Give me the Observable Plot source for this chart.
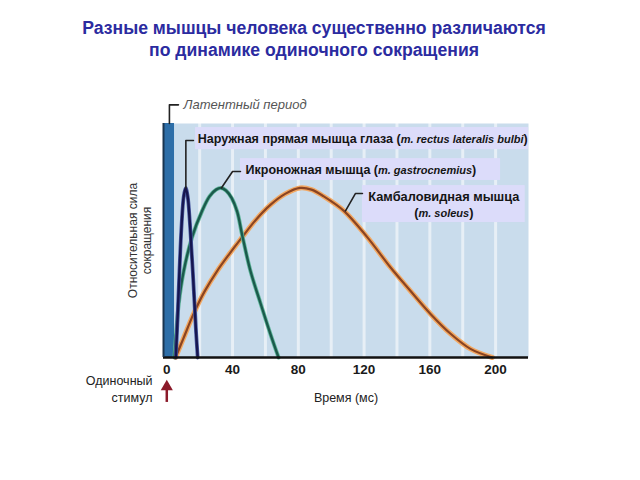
<!DOCTYPE html>
<html>
<head>
<meta charset="utf-8">
<script src="https://cdn.jsdelivr.net/npm/d3@7"></script>
<script src="https://cdn.jsdelivr.net/npm/@observablehq/plot@0.6"></script>
<style>
  html, body { margin: 0; padding: 0; background: white; }
  #wrap { position: relative; width: 640px; height: 480px; font-family: "Liberation Sans", Arial, sans-serif; }
  #title { position: absolute; left: 0; top: 17px; width: 628px; text-align: center; font-weight: bold;
           font-size: 17.6px; line-height: 22px; color: #2b2ba0; }
  #chart { position: absolute; left: 0; top: 0; }
</style>
</head>
<body>
<div id="wrap">
  <div id="chart"></div>
  <div id="title">Разные мышцы человека существенно различаются<br>по динамике одиночного сокращения</div>
</div>
<script>
// ---- Data ----
const eyeTime   = [5.5, 6.5, 7.7, 9, 10.3, 11.5, 12.7, 14, 15, 15.8, 16.8, 17.8, 18.8];
const eyeForce  = [0, 0.22, 0.51, 0.78, 0.95, 1, 0.95, 0.8, 0.64, 0.51, 0.33, 0.15, 0];

const gastroTime  = [4.7, 7.3, 10.3, 15.4, 21.5, 26, 30, 33, 36, 39.5, 42.8, 45.9, 50.9, 57, 63, 68];
const gastroForce = [0, 0.32, 0.51, 0.71, 0.865, 0.95, 0.99, 1, 0.985, 0.94, 0.86, 0.72, 0.51, 0.32, 0.14, 0];

const soleusTime  = [5.3, 10, 16.4, 23, 30.6, 38, 45.9, 54, 63, 72, 81, 88, 95.5, 107.7, 121.9, 136, 148, 160.4, 172.6, 184.7, 198];
const soleusForce = [0, 0.11, 0.26, 0.39, 0.51, 0.61, 0.71, 0.81, 0.9, 0.965, 1, 0.99, 0.95, 0.865, 0.71, 0.532, 0.395, 0.257, 0.14, 0.051, 0];

const xTicks    = [0, 40, 80, 120, 160, 200];
const gridTicks = [20, 40, 60, 80, 100, 120, 140, 160, 180, 200];
const latentPeriod = [-2, 4.7];   // ms, from stimulus to onset

const labelEye    = "Наружная прямая мышца глаза (m. rectus lateralis bulbi)";
const labelGastro = "Икроножная мышца (m. gastrocnemius)";
const labelSoleus = "Камбаловидная мышца\n(m. soleus)";
const labelLatent = "Латентный период";
const labelX      = "Время (мс)";
const labelY      = "Относительная сила\nсокращения";
const labelStim   = "Одиночный\nстимул";

// ---- Build tables ----
const toRows = (ts, vs) => ts.map((t, i) => ({t, v: vs[i]}));
const eye = toRows(eyeTime, eyeForce);
const gastro = toRows(gastroTime, gastroForce);
const soleus = toRows(soleusTime, soleusForce);

// annotation layout (data coordinates)
const boxes = [
  {x1: 17.5, x2: 220, y1: 1.226, y2: 1.356},
  {x1: 44.8, x2: 203, y1: 1.044, y2: 1.173},
  {x1: 119,  x2: 218, y1: 0.796, y2: 1.014}
];
const leaders = [
  [[11.6, 1.0], [11.6, 1.28], [16.2, 1.28]],
  [[33.2, 1.0], [40, 1.097], [44.8, 1.097]],
  [[108.7, 0.865], [114.7, 0.967], [119, 0.967]],
  [[1.6, 1.38], [1.6, 1.49], [7.1, 1.49]]
].flatMap((pts, k) => pts.map(([t, v]) => ({k, t, v})));

const font = "Liberation Sans, Arial, sans-serif";
const curve = "catmull-rom";

const plot = Plot.plot({
  width: 640, height: 480,
  marginLeft: 163, marginRight: 112, marginTop: 123, marginBottom: 123,
  style: {fontFamily: font, background: "transparent", overflow: "visible"},
  x: {domain: [-2, 220], axis: null},
  y: {domain: [0, 1.38], axis: null},
  marks: [
    Plot.frame({fill: "#c9dcec", stroke: null}),
    Plot.ruleX(gridTicks, {stroke: "white", strokeOpacity: 0.55, strokeWidth: 3}),
    Plot.rect([latentPeriod], {x1: d => d[0], x2: d => d[1], y1: 0, y2: 1.38, fill: "#2d6ea8"}),
    Plot.rect(boxes, {x1: "x1", x2: "x2", y1: "y1", y2: "y2", fill: "#dcdcfa"}),
    // curves
    Plot.line(soleus, {x: "t", y: "v", curve, stroke: "#f2a862", strokeWidth: 5}),
    Plot.line(soleus, {x: "t", y: "v", curve, stroke: "#8a4422", strokeWidth: 2.2}),
    Plot.line(gastro, {x: "t", y: "v", curve, stroke: "#5fb59a", strokeWidth: 4}),
    Plot.line(gastro, {x: "t", y: "v", curve, stroke: "#1b5a4c", strokeWidth: 2.4}),
    Plot.line(eye, {x: "t", y: "v", curve, stroke: "#4a5aa0", strokeWidth: 3.8}),
    Plot.line(eye, {x: "t", y: "v", curve, stroke: "#161650", strokeWidth: 2.4}),
    // leaders
    Plot.line(leaders, {x: "t", y: "v", z: "k", stroke: "#222", strokeWidth: 1.6}),
    // axes lines
    Plot.ruleY([0], {stroke: "#111", strokeWidth: 2.5}),
    Plot.ruleX([-2], {stroke: "#1a3550", strokeWidth: 2}),
    // labels
    Plot.text([labelEye], {x: 18.8, y: 1.29, text: d => d, textAnchor: "start", fontSize: 12.5, fontWeight: "bold", fill: "#151515"}),
    Plot.text([labelGastro], {x: 47.9, y: 1.108, text: d => d, textAnchor: "start", fontSize: 12.5, fontWeight: "bold", fill: "#151515"}),
    Plot.text([labelSoleus], {x: 168.5, y: 0.905, text: d => d, textAnchor: "middle", lineHeight: 1.2, fontSize: 12.8, fontWeight: "bold", fill: "#151515"}),
    Plot.text([labelLatent], {x: 10.2, y: 1.49, text: d => d, textAnchor: "start", fontSize: 13, fontStyle: "italic", fill: "#555"}),
    // x tick labels
    Plot.text(xTicks, {x: d => d, frameAnchor: "bottom", dy: 16, text: d => String(d), fontSize: 13.5, fontWeight: "bold", fill: "#1a1a1a"}),
    Plot.text([labelX], {frameAnchor: "bottom", dy: 44, text: d => d, fontSize: 12.5, fill: "#222"}),
    // stimulus
    Plot.text([labelStim], {frameAnchor: "bottom-left", dx: -11, dy: 44, text: d => d, textAnchor: "end", lineHeight: 1.3, fontSize: 12.5, fill: "#222"}),
    Plot.ruleX([0], {y1: -0.265, y2: -0.19, stroke: "#8b1a2a", strokeWidth: 2.5}),
    Plot.dot([0], {x: d => d, y: -0.172, symbol: "triangle", r: 4.5, fill: "#8b1a2a", stroke: null}),
    // y label
    Plot.text([labelY], {frameAnchor: "left", dx: -24, rotate: -90, text: d => d, textAnchor: "middle", lineHeight: 1.15, fontSize: 12, fill: "#333"})
  ]
});

// italicize the Latin names inside the parentheses
plot.querySelectorAll("text, tspan").forEach(el => {
  if (el.children.length) return;
  const s = el.textContent;
  const m = s.match(/^(.*\()(m\.[^)]*)(\).*)$/);
  if (!m) return;
  el.textContent = "";
  const ns = "http://www.w3.org/2000/svg";
  const a = document.createElementNS(ns, "tspan"); a.textContent = m[1];
  const b = document.createElementNS(ns, "tspan"); b.textContent = m[2];
  b.setAttribute("font-style", "italic"); b.setAttribute("font-size", "11"); b.setAttribute("font-weight", "bold");
  const c = document.createElementNS(ns, "tspan"); c.textContent = m[3];
  el.append(a, b, c);
});

document.getElementById("chart").appendChild(plot);
</script>
</body>
</html>
